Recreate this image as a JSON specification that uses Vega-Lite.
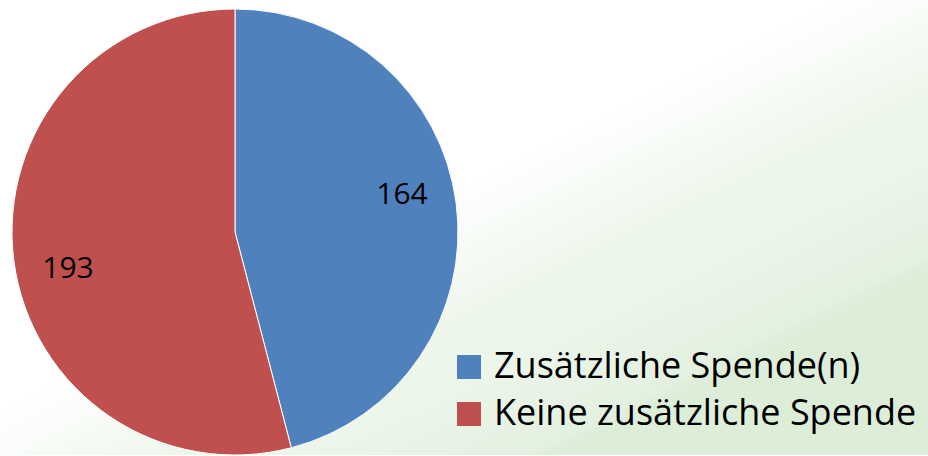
{
  "$schema": "https://vega.github.io/schema/vega-lite/v6.json",
  "width": 928,
  "height": 456,
  "autosize": {"type": "fit", "contains": "padding"},
  "padding": 0,
  "background": "#ffffff",
  "config": {"view": {"stroke": null}},
  "data": {
    "values": [
      {"category": "Zusätzliche Spende(n)", "count": 164},
      {"category": "Keine zusätzliche Spende", "count": 193}
    ]
  },
  "layer": [
    {
      "transform": [{"aggregate": [{"op": "count", "as": "n"}]}],
      "mark": {
        "type": "rect",
        "color": {
          "gradient": "linear",
          "x1": 0.4, "y1": 0, "x2": 1, "y2": 0.6,
          "stops": [
            {"offset": 0, "color": "#ffffff"},
            {"offset": 0.42, "color": "#ffffff"},
            {"offset": 0.65, "color": "#eff7ed"},
            {"offset": 0.8, "color": "#ebf5e9"},
            {"offset": 0.97, "color": "#e3f1e0"},
            {"offset": 1.0, "color": "#dcedd8"}
          ]
        }
      },
      "encoding": {}
    },
    {
      "mark": {"type": "arc", "x": 235, "y": 232, "outerRadius": 223, "stroke": "#ffffff", "strokeWidth": 1},
      "encoding": {
        "theta": {"field": "count", "type": "quantitative", "stack": true},
        "order": {"field": "count", "type": "quantitative", "sort": "ascending"},
        "color": {
          "field": "category",
          "type": "nominal",
          "scale": {
            "domain": ["Zusätzliche Spende(n)", "Keine zusätzliche Spende"],
            "range": ["#4f81bd", "#c0504d"]
          },
          "legend": {
            "title": null,
            "orient": "none",
            "legendX": 451,
            "legendY": 349,
            "symbolType": "square",
            "symbolSize": 576,
            "symbolStrokeWidth": 0,
            "labelFont": "Open Sans",
            "labelFontSize": 36,
            "labelColor": "#000000",
            "labelOffset": 7,
            "labelLimit": 600,
            "rowPadding": 11
          }
        }
      }
    },
    {
      "mark": {"type": "text", "x": 235, "y": 232, "radius": 171, "thetaOffset": -0.09, "font": "Open Sans", "fontSize": 30, "color": "#000000", "align": "center", "baseline": "middle"},
      "encoding": {
        "theta": {"field": "count", "type": "quantitative", "stack": true},
        "order": {"field": "count", "type": "quantitative", "sort": "ascending"},
        "text": {"field": "count", "type": "quantitative"}
      }
    }
  ]
}
